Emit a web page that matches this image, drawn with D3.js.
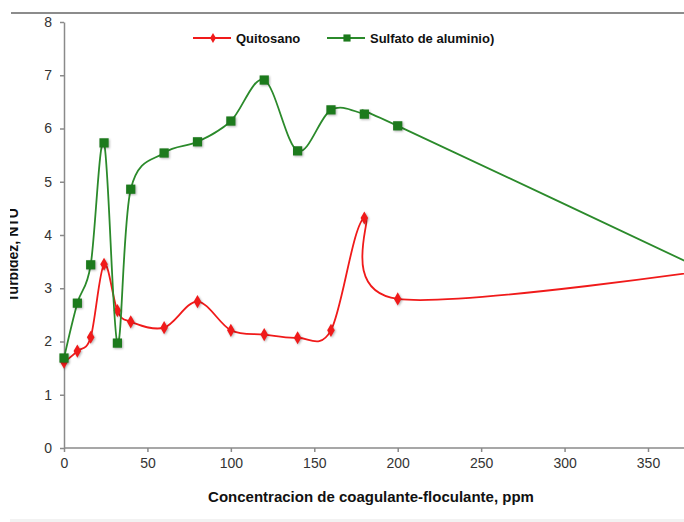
<!DOCTYPE html>
<html>
<head>
<meta charset="utf-8">
<script src="https://cdn.jsdelivr.net/npm/d3@7"></script>
<style>
  body { margin: 0; background: #fff; }
  svg { display: block; font-family: "Liberation Sans", Arial, sans-serif; }
</style>
</head>
<body>
<div id="chart"></div>
<script>
// dosis (ppm) and turbidez readings
const dosis = [0, 8, 16, 24, 32, 40, 60, 80, 100, 120, 140, 160, 180, 200, 400];
const quitosano = [1.61, 1.82, 2.08, 3.45, 2.58, 2.37, 2.26, 2.75, 2.21, 2.13, 2.07, 2.21, 4.32, 2.8, 3.4];
const sulfato = [1.69, 2.72, 3.44, 5.73, 1.97, 4.86, 5.54, 5.75, 6.14, 6.91, 5.58, 6.35, 6.27, 6.05, 3.1];
const xTicks = [0, 50, 100, 150, 200, 250, 300, 350];
const yTicks = [0, 1, 2, 3, 4, 5, 6, 7, 8];

const width = 684, height = 522;
const svg = d3.select('#chart').append('svg')
  .attr('width', width)
  .attr('height', height);

const x = d3.scaleLinear().domain([0, 350]).range([64, 648]);
const y = d3.scaleLinear().domain([0, 8]).range([448, 22]);

// top rule and bottom band from the page
svg.append('line')
  .attr('x1', 11).attr('x2', width)
  .attr('y1', 13).attr('y2', 13)
  .attr('stroke', '#666').attr('stroke-width', 1.5);
svg.append('rect')
  .attr('x', 10).attr('y', 519).attr('width', width).attr('height', 3)
  .attr('fill', '#f2f2f2');

// axes
const xAxis = svg.append('g')
  .attr('transform', `translate(0,${y(0)})`)
  .call(d3.axisBottom(x).tickValues(xTicks).tickSize(4).tickSizeOuter(0).tickPadding(6));
xAxis.select('.domain').attr('d', `M${x(0)},0H${width}`);

const yAxis = svg.append('g')
  .attr('transform', `translate(${x(0)},0)`)
  .call(d3.axisLeft(y).tickValues(yTicks).tickSize(4).tickSizeOuter(0).tickPadding(8));

svg.selectAll('.domain, .tick line').attr('stroke', '#8a8a8a').attr('stroke-width', 1.5);
svg.selectAll('.tick text')
  .attr('fill', '#333')
  .style('font-size', '14px')
  .style('font-family', '"Liberation Sans", Arial, sans-serif');

// axis titles
svg.append('text')
  .attr('x', 371).attr('y', 502)
  .attr('text-anchor', 'middle')
  .style('font-size', '15px').style('font-weight', 'bold')
  .attr('fill', '#111')
  .text('Concentracion de coagulante-floculante, ppm');

svg.append('text')
  .attr('transform', 'translate(18,255) rotate(-90)')
  .attr('text-anchor', 'middle')
  .style('font-size', '14px').style('font-weight', 'bold')
  .attr('fill', '#111')
  .text('Turbidez, NTU');

// lines
const series = [
  { name: 'Quitosano', values: quitosano, color: '#f01a1a', mark: d3.symbolDiamond, size: 50 },
  { name: 'Sulfato de aluminio)', values: sulfato, color: '#2b8a2b', mark: d3.symbolSquare, size: 85 }
];

const line = d3.line()
  .x(d => x(d[0]))
  .y(d => y(d[1]))
  .curve(d3.curveCardinal.tension(0));

series.forEach(s => {
  const pts = dosis.map((d, i) => [d, s.values[i]]);
  svg.append('path')
    .datum(pts)
    .attr('fill', 'none')
    .attr('stroke', s.color)
    .attr('stroke-width', 1.8)
    .attr('d', line);

  svg.append('g').selectAll('path')
    .data(pts.filter(p => x(p[0]) <= width))
    .enter()
    .append('path')
    .attr('transform', d => `translate(${x(d[0])},${y(d[1])})`)
    .attr('d', d3.symbol().type(s.mark).size(s.size))
    .attr('fill', s.color === '#2b8a2b' ? '#1c7a1c' : s.color)
    .style('filter', 'drop-shadow(1px 1px 1px rgba(0,0,0,0.3))');
});

// legend
const legend = [
  { x: 193, ...series[0] },
  { x: 327, ...series[1] }
];
const lg = svg.append('g').selectAll('g')
  .data(legend)
  .enter()
  .append('g')
  .attr('transform', d => `translate(${d.x},38)`);
lg.append('line')
  .attr('x1', 0).attr('x2', 38)
  .attr('stroke', d => d.color).attr('stroke-width', 1.8);
lg.append('path')
  .attr('transform', 'translate(20,0)')
  .attr('d', d => d3.symbol().type(d.mark).size(d.size * 0.6)())
  .attr('fill', d => d.color === '#2b8a2b' ? '#1c7a1c' : d.color);
lg.append('text')
  .attr('x', 43).attr('y', 5)
  .style('font-size', '13px').style('font-weight', 'bold')
  .attr('fill', '#111')
  .text(d => d.name);

// page crop on the left edge
svg.append('rect')
  .attr('x', 0).attr('y', 0).attr('width', 10).attr('height', height)
  .attr('fill', '#fff');
</script>
</body>
</html>
